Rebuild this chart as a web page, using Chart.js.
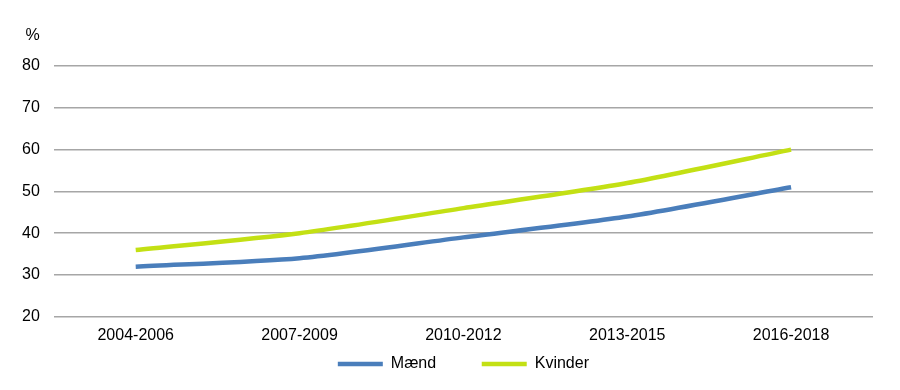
<!DOCTYPE html>
<html>
<head>
<meta charset="utf-8">
<script src="https://cdn.jsdelivr.net/npm/chart.js@4"></script>
<style>
  body { margin: 0; background: #fff; }
  #wrap { width: 900px; height: 390px; }
</style>
</head>
<body>
<div id="wrap"><canvas id="js--chart"></canvas></div>
<script>
// perioder og andele i procent
const labels = ["2004-2006", "2007-2009", "2010-2012", "2013-2015", "2016-2018"];
const maend = [32, 34, 39, 44, 51];
const kvinder = [36, 40, 46, 52, 60];
const yTicks = [20, 30, 40, 50, 60, 70, 80];

Chart.defaults.font.family = "'Liberation Sans', Arial, sans-serif";
Chart.defaults.font.size = 16;
Chart.defaults.color = "#000";

// "%" over y-aksen
const procentLabel = {
    id: "procentLabel",
    afterDraw(chart) {
        const ctx = chart.ctx;
        const y = chart.scales.y;
        ctx.save();
        ctx.font = "16px 'Liberation Sans', Arial, sans-serif";
        ctx.fillStyle = "#000";
        ctx.textAlign = "right";
        ctx.textBaseline = "middle";
        ctx.fillText("%", y.right - 14, chart.chartArea.top - 30);
        ctx.restore();
    }
};

const data = {
    labels: labels,
    datasets: [
        {
            label: "Mænd",
            data: maend,
            borderColor: "#4A7EBB",
            backgroundColor: "#4A7EBB",
            borderWidth: 4.5,
            pointRadius: 0,
            tension: 0.25
        },
        {
            label: "Kvinder",
            data: kvinder,
            borderColor: "#C3E014",
            backgroundColor: "#C3E014",
            borderWidth: 4.5,
            pointRadius: 0,
            tension: 0.25
        }
    ]
};

const config = {
    type: "line",
    data: data,
    options: {
        responsive: true,
        maintainAspectRatio: false,
        animation: false,
        layout: { padding: { top: 66, left: 8, right: 27, bottom: 8 } },
        plugins: {
            legend: {
                position: "bottom",
                fullSize: false,
                labels: {
                    usePointStyle: true,
                    pointStyle: "line",
                    pointStyleWidth: 45,
                    padding: 10,
                    color: "#000",
                    generateLabels(chart) {
                        const items = Chart.defaults.plugins.legend.labels.generateLabels(chart);
                        // lidt luft mellem de to forklaringer
                        items[0].text = items[0].text + "        ";
                        return items;
                    }
                }
            },
            tooltip: { enabled: false }
        },
        scales: {
            x: {
                offset: true,
                grid: { display: false },
                border: { display: false },
                ticks: { padding: 1 }
            },
            y: {
                min: 20,
                max: 80,
                afterBuildTicks(scale) {
                    scale.ticks = yTicks.map(v => ({ value: v }));
                },
                grid: { color: "#A6A6A6", lineWidth: 1.5, drawTicks: false },
                border: { display: false },
                ticks: { padding: 14 }
            }
        }
    },
    plugins: [procentLabel]
};

new Chart(document.getElementById("js--chart"), config);
</script>
</body>
</html>
